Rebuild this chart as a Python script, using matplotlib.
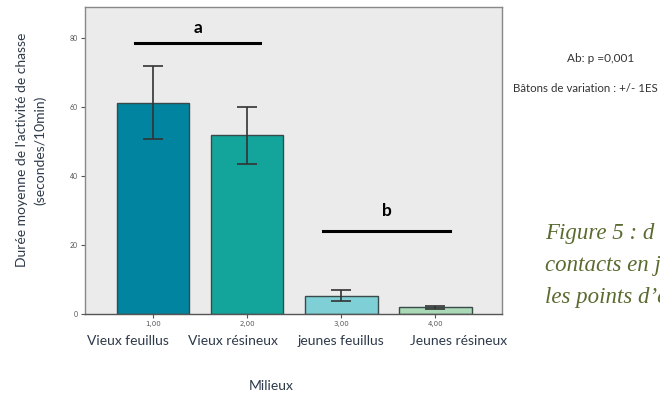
import matplotlib.pyplot as plt
import numpy as np

plt.rcParams["font.family"] = ["Lato", "DejaVu Sans"]

# Data
categories = ["Vieux feuillus", "Vieux résineux", "jeunes feuillus", "Jeunes résineux"]
codes = ["1,00", "2,00", "3,00", "4,00"]
means = [61.3, 51.8, 5.3, 1.9]
err_low = [50.7, 43.5, 3.8, 1.5]
err_high = [71.8, 60.0, 7.0, 2.4]
colors = ["#00849f", "#13a59b", "#7fd0d6", "#a9d9b6"]
yticks = [0, 20, 40, 60, 80]

# the category names sit slightly off the tick positions in the original
name_shift = [-0.27, -0.15, 0.0, 0.25]

# significance groups: (label, first bar, last bar, line height, text height)
groups = [("a", 0.81, 2.14, 78.5, 83.0), ("b", 2.81, 4.15, 24.0, 30.0)]

fig = plt.figure(figsize=(6.6, 3.99), dpi=100)
ax = fig.add_axes([0.129, 0.213, 0.632, 0.769])
ax.set_facecolor("#ebebeb")

x = np.arange(1, len(categories) + 1)
yerr = [np.array(means) - np.array(err_low), np.array(err_high) - np.array(means)]
ax.bar(x, means, width=0.77, color=colors, edgecolor="#3a4a4a", linewidth=1.0, zorder=2)
ax.errorbar(x, means, yerr=yerr, fmt="none", ecolor="#333333", elinewidth=1.2,
            capsize=7, capthick=1.2, zorder=3)

for label, x0, x1, yl, yt in groups:
    ax.plot([x0, x1], [yl, yl], color="black", linewidth=2.2, zorder=4)
    ax.text((x0 + x1) / 2, yt, label, ha="center", va="center",
            fontsize=12.5, fontweight="bold", color="black")

ax.set_xlim(0.28, 4.71)
ax.set_ylim(0, 89)
ax.set_yticks(yticks)
ax.set_yticklabels([str(v) for v in yticks], fontsize=5, color="#555555")
ax.set_xticks(x)
ax.set_xticklabels(codes, fontsize=5, color="#555555", family="DejaVu Sans")
ax.tick_params(axis="both", length=3, width=0.8, color="#555555", pad=2)
for s in ax.spines.values():
    s.set_color("#888888")
    s.set_linewidth(1.0)
ax.spines["bottom"].set_color("#555555")

for xi, dx, name in zip(x, name_shift, categories):
    ax.text(xi + dx, -7.7, name, ha="center", va="center", fontsize=10,
            color="#2e3a4a", clip_on=False)

fig.text(271 / 660, 1 - 386 / 399, "Milieux", ha="center", va="center",
         fontsize=10, color="#2e3a4a")
fig.text(22 / 660, 1 - 150 / 399, "Durée moyenne de l'activité de chasse",
         rotation=90, ha="center", va="center", fontsize=10, color="#2e3a4a")
fig.text(40 / 660, 1 - 150 / 399, "(secondes/10min)",
         rotation=90, ha="center", va="center", fontsize=10, color="#2e3a4a")

fig.text(601 / 660, 1 - 58 / 399, "Ab: p =0,001", ha="center", va="center",
         fontsize=8.5, color="#333333")
fig.text(585 / 660, 1 - 88 / 399, "Bâtons de variation : +/- 1ES", ha="center",
         va="center", fontsize=8.3, color="#333333")

cap_lines = ["Figure 5 : d", "contacts en j", "les points d’é"]
for i, line in enumerate(cap_lines):
    fig.text(545 / 660, 1 - (233 + 32 * i) / 399, line, ha="left", va="center",
             fontsize=16.5, style="italic", family="Liberation Serif",
             color="#5a6b30")

fig.savefig("out.png", dpi=100)
